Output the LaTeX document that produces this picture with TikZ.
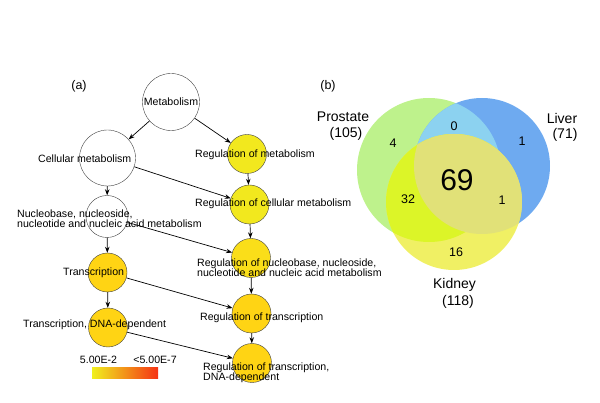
\documentclass[tikz,border=0pt]{standalone}
\usepackage{fontspec}
\setmainfont{Liberation Sans}
\usetikzlibrary{arrows.meta}

\definecolor{lemon}{RGB}{242,232,30}
\definecolor{butter}{RGB}{250,222,25}
\definecolor{golden}{RGB}{255,212,20}
\definecolor{barlow}{RGB}{240,240,30}
\definecolor{barmid}{RGB}{250,160,30}
\definecolor{barhigh}{RGB}{245,50,20}
\definecolor{prostate}{RGB}{190,242,140}
\definecolor{liver}{RGB}{110,170,240}
\definecolor{kidney}{RGB}{240,240,100}
\definecolor{proliv}{RGB}{140,210,240}
\definecolor{prokid}{RGB}{220,245,40}
\definecolor{kidliv}{RGB}{225,225,120}

\begin{document}
\begin{tikzpicture}[x=1pt,y=-1pt]
		\tikzstyle{term}=[circle,draw=black!75,line width=0.4pt,inner sep=0pt,minimum size=39pt]
		\tikzstyle{lbl}=[font=\fontsize{10.6}{10}\selectfont,anchor=west,align=left,inner sep=0pt]
		\tikzstyle{link}=[-{Stealth[length=6pt,width=4.5pt]},line width=0.7pt]
		\tikzstyle{tag}=[font=\fontsize{12.5}{12.5}\selectfont,inner sep=0pt]
		\tikzstyle{count}=[font=\fontsize{12.5}{12.5}\selectfont,inner sep=0pt]
		\tikzstyle{organ}=[font=\fontsize{14}{16}\selectfont,inner sep=0pt,align=center]

		\useasboundingbox (0,0) rectangle (600,403);

		%% (a) GO terms
		\node [tag] (taga) at (79,86) {(a)};

		\node [term,minimum size=57pt] (metab) at (171,102) {};
		\node [term,minimum size=56pt] (cell) at (107.5,158) {};
		\node [term,minimum size=42pt] (nucl) at (107,216.5) {};
		\node [term,fill=golden] (trans) at (107.5,272.5) {};
		\node [term,fill=golden] (transdna) at (108,327.5) {};

		\node [term,fill=lemon] (regmetab) at (247,154) {};
		\node [term,fill=lemon] (regcell) at (249.5,204.5) {};
		\node [term,fill=butter] (regnucl) at (251,258) {};
		\node [term,fill=golden] (regtrans) at (251.5,313.5) {};
		\node [term,fill=golden] (regtransdna) at (252,363) {};

		%% edges
		\draw [link] (metab) -- (cell);
		\draw [link] (metab) -- (regmetab);
		\draw [link] (cell) -- (nucl);
		\draw [link] (cell) -- (regcell);
		\draw [link] (regmetab) -- (regcell);
		\draw [link] (regcell) -- (regnucl);
		\draw [link] (nucl) -- (regnucl);
		\draw [link] (nucl) -- (trans);
		\draw [link] (regnucl) -- (regtrans);
		\draw [link] (trans) -- (regtrans);
		\draw [link] (trans) -- (transdna);
		\draw [link] (regtrans) -- (regtransdna);
		\draw [link] (transdna) -- (regtransdna);

		%% labels
		\node [lbl,anchor=center] (lmetab) at (171,102) {Metabolism};
		\node [lbl] (lcell) at (38,159) {Cellular metabolism};
		\node [lbl] (lnucl) at (17,218.5) {Nucleobase, nucleoside,\\nucleotide and nucleic acid metabolism};
		\node [lbl] (ltrans) at (63,273) {Transcription};
		\node [lbl] (ltransdna) at (23,325) {Transcription, DNA-dependent};
		\node [lbl] (lregmetab) at (195,155) {Regulation of metabolism};
		\node [lbl] (lregcell) at (195,204) {Regulation of cellular metabolism};
		\node [lbl] (lregnucl) at (197,267.5) {Regulation of nucleobase, nucleoside,\\nucleotide and nucleic acid metabolism};
		\node [lbl] (lregtrans) at (200,318) {Regulation of transcription};
		\node [lbl] (lregtransdna) at (203,373) {Regulation of transcription,\\DNA-dependent};

		%% colour key
		\shade [left color=barlow,middle color=barmid,right color=barhigh] (92,368) rectangle (158,379);
		\node [lbl,anchor=center] (keylow) at (98.5,360) {5.00E-2};
		\node [lbl,anchor=center] (keyhigh) at (155,360) {<5.00E-7};

		%% (b) Venn diagram
		\node [tag] (tagb) at (328,86) {(b)};

		\coordinate (cpro) at (429,170);
		\coordinate (cliv) at (482,166);
		\coordinate (ckid) at (454,202);

		\fill [prostate] (cpro) circle (72pt);
		\fill [liver] (cliv) circle (68pt);
		\begin{scope}
		\clip (cpro) circle (72pt);
		\fill [proliv] (cliv) circle (68pt);
		\end{scope}
		\fill [kidney] (ckid) circle (68pt);
		\begin{scope}
		\clip (ckid) circle (68pt);
		\fill [prokid] (cpro) circle (72pt);
		\fill [kidliv] (cliv) circle (68pt);
		\end{scope}

		\node [organ] (npro) at (343,117) {Prostate};
		\node [organ] (npron) at (346,134) {(105)};
		\node [organ] (nliv) at (562,118) {Liver};
		\node [organ] (nlivn) at (565,135) {(71)};
		\node [organ] (nkid) at (454.5,285) {Kidney};
		\node [organ] (nkidn) at (458,302) {(118)};

		\node [count] (only4) at (393,143) {4};
		\node [count] (only0) at (454,126) {0};
		\node [count] (only1) at (522,141) {1};
		\node [count,font=\fontsize{30}{30}\selectfont] (all69) at (457,180) {69};
		\node [count] (two32) at (408,199) {32};
		\node [count] (two1) at (502,200) {1};
		\node [count] (only16) at (456,252) {16};

\end{tikzpicture}
\end{document}
